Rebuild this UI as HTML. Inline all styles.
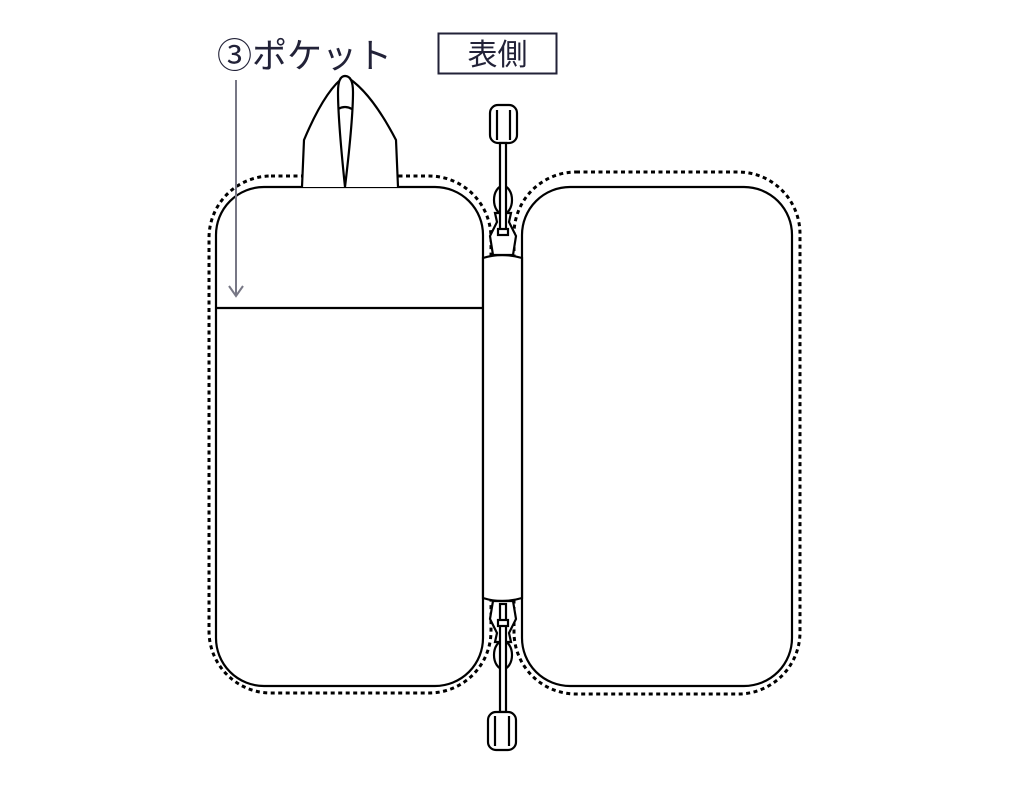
<!DOCTYPE html>
<html><head><meta charset="utf-8"><style>
html,body{margin:0;padding:0;background:#fff;width:1010px;height:790px;overflow:hidden}
</style></head><body>
<svg width="1010" height="790" viewBox="0 0 1010 790" xmlns="http://www.w3.org/2000/svg">
<g fill="none" stroke="#000" stroke-width="3" stroke-dasharray="4 3.5">
  <rect x="209" y="176" width="282" height="517" rx="62"/>
  <rect x="514" y="172" width="286" height="522" rx="62"/>
</g>
<g stroke="#000" stroke-width="2.2" fill="#fff">
  <rect x="216" y="187" width="267" height="499" rx="48"/>
  <rect x="522" y="187" width="270" height="499" rx="48"/>
  <!-- spine -->
  <path d="M483,258 Q502,252 522,258 L522,598 Q502,604 483,598 Z"/>
  <!-- loop -->
  <path d="M302,187 L304,140 Q325,90 345,76 Q370,90 396,140 L398,187"/>
  <path d="M345,187 Q338,120 338,92 Q338,76 345,76 Q353,76 353,92 Q353,120 345,187 Z"/>
  <path d="M338,109 Q345,105 352,109" fill="none"/>
  <line x1="216" y1="308" x2="483" y2="308"/>
  <!-- top pull -->
  <rect x="490" y="105" width="27" height="38" rx="8"/>
  <line x1="497" y1="110" x2="497" y2="140" />
  <line x1="510" y1="110" x2="510" y2="140" />
  <ellipse cx="503" cy="200" rx="9" ry="14"/>
  <path d="M495,213 L497,222 L490,236 L493,255 L513,255 L516,236 L509,222 L511,213 Z"/>
  <rect x="500" y="143" width="6" height="90"/>
  <rect x="498" y="229" width="10" height="6"/>
  <!-- bottom pull -->
  <ellipse cx="503" cy="655" rx="9" ry="14"/>
  <path d="M495,642 L497,633 L490,619 L493,601 L513,601 L516,619 L509,633 L511,642 Z"/>
  <rect x="500" y="604" width="6" height="108"/>
  <rect x="498" y="620" width="10" height="6"/>
  <rect x="488" y="712" width="28" height="38" rx="8"/>
  <line x1="495" y1="716" x2="495" y2="746"/>
  <line x1="509" y1="716" x2="509" y2="746"/>
</g>
<!-- arrow -->
<g stroke="#777785" stroke-width="2" fill="none">
  <line x1="236" y1="80" x2="236" y2="296"/>
  <path d="M229,286 L236,296 L243,286"/>
</g>
<text x="217" y="68" font-family="'Liberation Sans','Noto Sans CJK JP',sans-serif" font-size="35" fill="#222238">③ポケット</text>
<rect x="438.5" y="33.5" width="118" height="40" fill="none" stroke="#222238" stroke-width="2"/>
<text x="497.5" y="65" text-anchor="middle" font-family="'Liberation Sans','Noto Sans CJK JP',sans-serif" font-size="30" fill="#222238">表側</text>
</svg>
</body></html>
